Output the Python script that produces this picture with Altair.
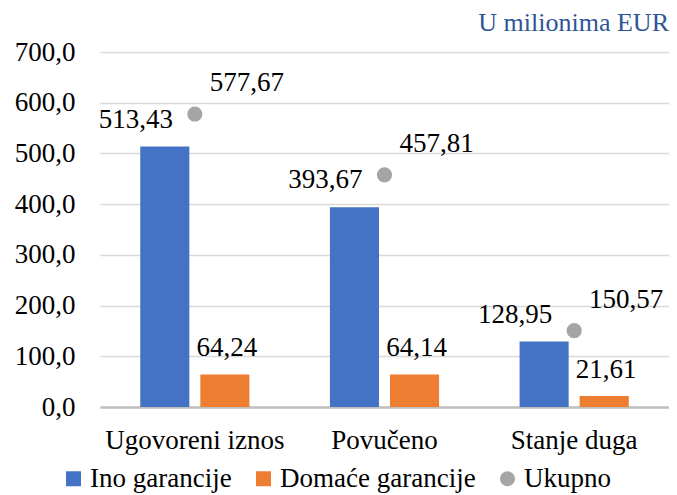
import altair as alt
import pandas as pd

categories = ["Ugovoreni iznos", "Povučeno", "Stanje duga"]
ino = [513.43, 393.67, 128.95]
domace = [64.24, 64.14, 21.61]
ukupno = [577.67, 457.81, 150.57]
series_names = ["Ino garancije", "Domaće garancije", "Ukupno"]
colors = ["#4472C4", "#ED7D31", "#A5A5A5"]
y_ticks = [0, 100, 200, 300, 400, 500, 600, 700]

rows = []
for s, vals in zip(series_names, [ino, domace, ukupno]):
    for c, v in zip(categories, vals):
        rows.append({"cat": c, "series": s, "value": v})
df = pd.DataFrame(rows)

FONT = "Liberation Serif"
FS = 27

base = alt.Chart(df).transform_calculate(
    label="replace(format(datum.value, '.2f'), '.', ',')"
)

x = alt.X(
    "cat:N", sort=categories,
    scale=alt.Scale(paddingInner=0, paddingOuter=0),
    axis=alt.Axis(title=None, labelAngle=0, ticks=False, domain=True,
                  domainColor="#BFBFBF", domainWidth=2.5, labelPadding=20,
                  labelBaseline="top", labelFontSize=FS, labelFont=FONT,
                  labelColor="black", grid=False),
)
y = alt.Y(
    "value:Q", scale=alt.Scale(domain=[0, 700], nice=False),
    axis=alt.Axis(title=None, values=y_ticks,
                  labelExpr="replace(format(datum.value, '.1f'), '.', ',')",
                  ticks=False, domain=False, gridColor="#D9D9D9", gridWidth=1.3,
                  labelPadding=25, labelFontSize=FS, labelFont=FONT,
                  labelColor="black"),
)
xoff = alt.XOffset("series:N", scale=alt.Scale(domain=series_names[:2],
                                               paddingInner=0.183, paddingOuter=0.67))
color = alt.Color("series:N", scale=alt.Scale(domain=series_names, range=colors),
                  legend=alt.Legend(title=None))
shape = alt.Shape("series:N",
                  scale=alt.Scale(domain=series_names, range=["square", "square", "circle"]),
                  legend=alt.Legend(title=None))

bars = base.transform_filter(
    alt.FieldOneOfPredicate(field="series", oneOf=series_names[:2])
).mark_bar().encode(x=x, y=y, xOffset=xoff, color=color)

pts = base.transform_filter(alt.datum.series == series_names[2]).mark_point(
    filled=True, size=230, opacity=1
).encode(x=x, y=y, color=color, shape=shape)

def labels(name, dx, dy, with_off=True):
    enc = dict(x=x, y=y, text="label:N")
    if with_off:
        enc["xOffset"] = xoff
    return base.transform_filter(alt.datum.series == name).mark_text(
        font=FONT, fontSize=FS, dx=dx, dy=dy, baseline="middle", color="black"
    ).encode(**enc)

t_ino = labels(series_names[0], -29, -27)
t_dom = labels(series_names[1], 2, -26)
t_uk = labels(series_names[2], 52, -31, with_off=False)

chart = alt.layer(bars, t_ino, t_dom, pts, t_uk).properties(
    width=569, height=355,
    padding={"left": 92, "top": 44, "right": 0, "bottom": 94},
    autosize=alt.AutoSizeParams(type="none"),
    title=alt.TitleParams("U milionima EUR", anchor="end", font=FONT, fontSize=26,
                          fontWeight="normal", color="#2F5597", offset=12,
                          baseline="alphabetic", dy=31),
).configure_view(stroke=None).configure_legend(
    orient="none", legendX=-40, legendY=413, direction="horizontal", columns=3,
    labelFont=FONT, labelFontSize=FS, labelColor="black", symbolSize=225,
    symbolStrokeWidth=0, labelOffset=3, columnPadding=18, padding=0,
    symbolOpacity=1, labelLimit=0,
)

chart.save("out.html", embed_options={"renderer": "svg", "actions": False})
